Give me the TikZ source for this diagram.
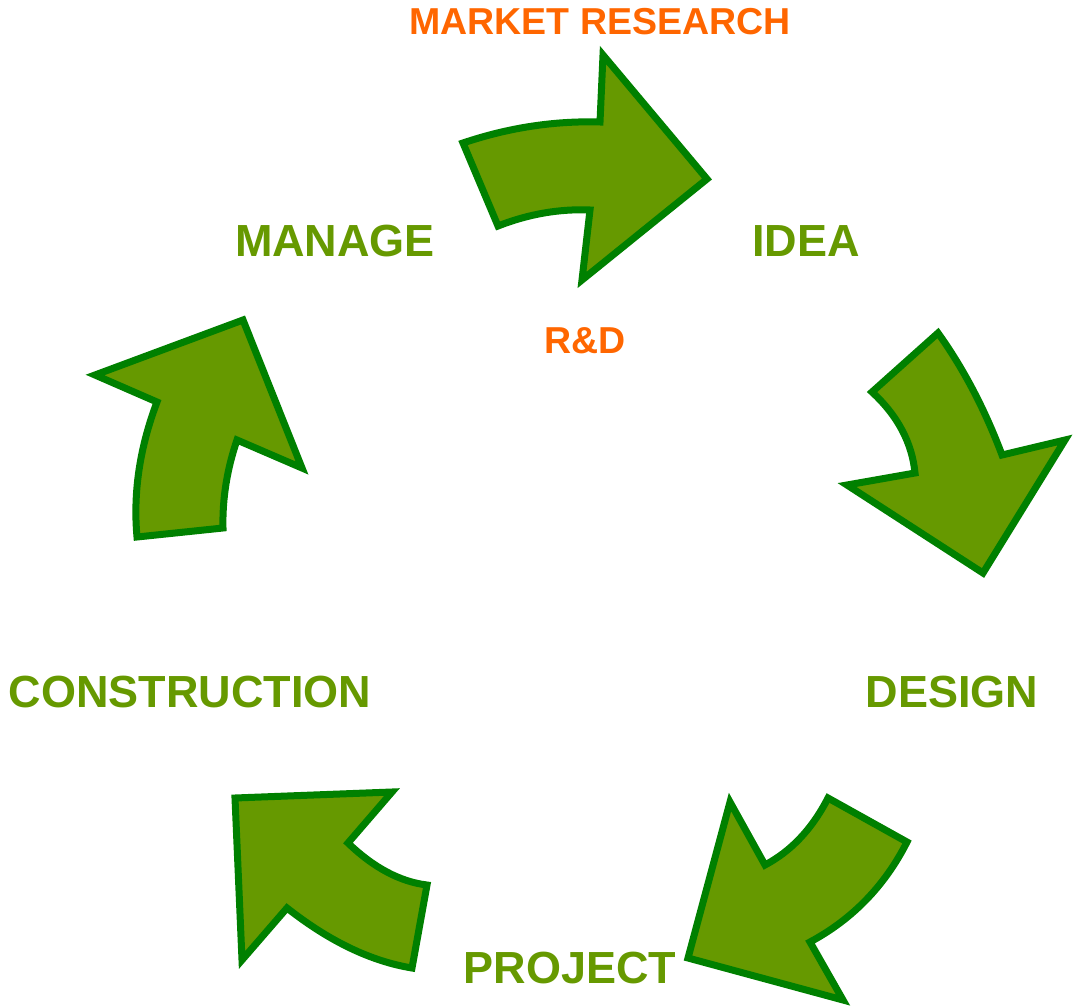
\documentclass[tikz,border=0pt]{standalone}
\usepackage{fontspec}
\setmainfont{Liberation Sans}
\definecolor{arrowfill}{HTML}{669900}
\definecolor{arrowline}{HTML}{008000}
\definecolor{labgreen}{HTML}{669900}
\definecolor{laborange}{HTML}{FF6600}
\tikzset{
  bigarrow/.style={fill=arrowfill, draw=arrowline, line width=7pt, line join=miter, miter limit=10},
  stagelabel/.style={anchor=base, text=labgreen, font=\fontsize{45}{54}\selectfont\bfseries, inner sep=0pt},
  sidelabel/.style={anchor=base, text=laborange, font=\fontsize{37.5}{46}\selectfont\bfseries, inner sep=0pt}
}
\begin{document}
\begin{tikzpicture}[x=1pt,y=-1pt]
\useasboundingbox (0,0) rectangle (1073,1008);
% top arrow (MANAGE -> IDEA)
\draw[bigarrow] (463,143) .. controls (508.3,127.7) and (554,120.7) .. (600,122) -- (603,55) -- (707,179) -- (582,280)
  -- (590,210) .. controls (559.3,208.7) and (528.7,214) .. (498,226) -- cycle;
% right arrow (IDEA -> DESIGN)
\draw[bigarrow] (938,333) .. controls (963.3,368.3) and (984.7,409) .. (1002,455) -- (1065,440) -- (983,573) -- (847,485)
  -- (915,473) .. controls (912,442.7) and (897.7,415.7) .. (872,392) -- cycle;
% bottom right arrow (DESIGN -> PROJECT)
\draw[bigarrow] (907,842) .. controls (884.7,886) and (852.3,919.3) .. (810,942) -- (843,1000) -- (688,958) -- (730,802)
  -- (765,865) .. controls (790.7,851.3) and (811.7,829.7) .. (828,798) -- cycle;
% bottom left arrow (PROJECT -> CONSTRUCTION)
\draw[bigarrow] (412,968) .. controls (371,961.3) and (329.3,941.3) .. (287,908) -- (242,960) -- (235,798) -- (392,792)
  -- (348,843) .. controls (373.7,867.7) and (400,881.7) .. (427,885) -- cycle;
% left arrow (CONSTRUCTION -> MANAGE)
\draw[bigarrow] (137,537) .. controls (133,492.7) and (139.7,447.7) .. (157,402) -- (95,375) -- (243,320) -- (302,468)
  -- (237,440) .. controls (227,469.3) and (222.3,498.7) .. (223,528) -- cycle;
% labels
\node[sidelabel] (market) at (600,35) {MARKET RESEARCH};
\node[sidelabel] (rd) at (585,353) {R\&D};
\node[stagelabel] (manage) at (335,257) {MANAGE};
\node[stagelabel] (idea) at (806,257) {IDEA};
\node[stagelabel] (design) at (952,707) {DESIGN};
\node[stagelabel] (construction) at (190,707) {CONSTRUCTION};
\node[stagelabel] (project) at (570,983) {PROJECT};
\end{tikzpicture}
\end{document}
